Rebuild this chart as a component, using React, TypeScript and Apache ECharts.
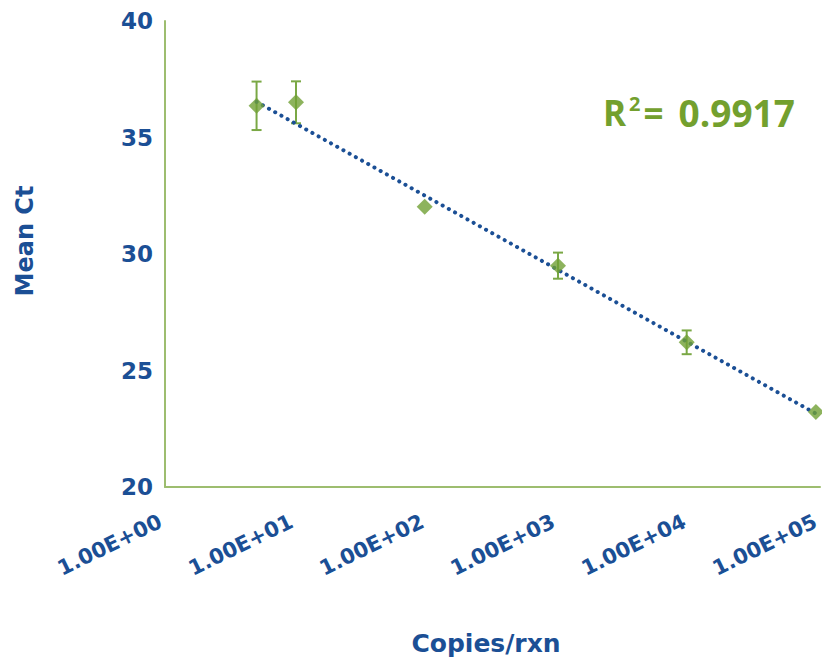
import React, { useEffect, useRef } from "react";
import * as echarts from "echarts";

const copies = [5, 10, 96, 1000, 9600, 93000];
const meanCt = [36.36, 36.51, 32.03, 29.5, 26.21, 23.22];
const ctError = [1.04, 0.9, 0, 0.56, 0.51, 0];
const trendX = [5, 93000];
const trendY = [36.53, 23.15];
const xTickLabels = ["1.00E+00", "1.00E+01", "1.00E+02", "1.00E+03", "1.00E+04", "1.00E+05"];
const yTicks = [20, 25, 30, 35, 40];
const r2Text = "0.9917";

const BLUE = "#1b4f95";
const GREEN = "#70a035";
const BAR_GREEN = "#7aa845";
const AXIS_GREEN = "#9dbd6f";
const R2_GREEN = "#73a02e";
const FONT = "DejaVu Sans";

export default function App() {
  const ref = useRef<HTMLDivElement>(null);
  useEffect(() => {
    if (!ref.current) return;
    const chart = echarts.init(ref.current, null, { renderer: "svg" });
    const errData = copies.map((c, i) => [c, meanCt[i] - ctError[i], meanCt[i] + ctError[i], ctError[i]]);
    chart.setOption({
      animation: false,
      grid: { left: 165, top: 21, right: 2, bottom: 171, outerBoundsMode: "none", containLabel: false },
      xAxis: {
        type: "log",
        logBase: 10,
        min: 1,
        max: 100000,
        axisLine: { show: true, lineStyle: { color: AXIS_GREEN, width: 2 } },
        axisTick: { show: false },
        splitLine: { show: false },
        axisLabel: {
          rotate: 26,
          margin: 31,
          color: BLUE,
          fontFamily: FONT,
          fontWeight: "bold",
          fontSize: 21,
          padding: [0, 5, 0, 0],
          hideOverlap: false,
          showMaxLabel: true,
          showMinLabel: true,
          formatter: (v: number) => {
            const e = Math.round(Math.log10(v));
            return xTickLabels[e] ?? "";
          },
        },
      },
      yAxis: {
        type: "value",
        min: yTicks[0],
        max: yTicks[yTicks.length - 1],
        interval: 5,
        axisLine: { show: true, lineStyle: { color: AXIS_GREEN, width: 2 } },
        axisTick: { show: false },
        splitLine: { show: false },
        axisLabel: {
          margin: 12,
          color: BLUE,
          fontFamily: FONT,
          fontWeight: "bold",
          fontSize: 23,
        },
      },
      graphic: [
        {
          type: "text",
          x: 25,
          y: 241,
          rotation: Math.PI / 2,
          style: {
            text: "Mean Ct",
            fill: BLUE,
            font: `bold 24px "${FONT}"`,
            textAlign: "center",
            textVerticalAlign: "middle",
          },
        },
        {
          type: "text",
          x: 486,
          y: 643,
          style: {
            text: "Copies/rxn",
            fill: BLUE,
            font: `bold 25px "${FONT}"`,
            textAlign: "center",
            textVerticalAlign: "middle",
          },
        },
        {
          type: "text",
          x: 603,
          y: 112,
          style: {
            text: "{r|R}{s|2}{r|=}{n|" + r2Text + "}",
            textVerticalAlign: "middle",
            rich: {
              r: { fill: R2_GREEN, font: `bold 35px "Open Sans"` },
              s: { fill: R2_GREEN, font: `bold 20px "Open Sans"`, verticalAlign: "top", padding: [0, 3, 14, 3] },
              n: { fill: R2_GREEN, font: `bold 37px "Open Sans"`, padding: [0, 0, 0, 15] },
            },
          },
        },
      ],
      series: [
        {
          type: "custom",
          z: 2,
          data: errData,
          renderItem: (params: any, api: any) => {
            const err = api.value(3);
            if (!err) return { type: "group", children: [] };
            const x = api.value(0);
            const top = api.coord([x, api.value(2)]);
            const bot = api.coord([x, api.value(1)]);
            const hw = 5;
            const style = { stroke: BAR_GREEN, lineWidth: 2 };
            return {
              type: "group",
              children: [
                { type: "line", shape: { x1: top[0], y1: top[1], x2: bot[0], y2: bot[1] }, style },
                { type: "line", shape: { x1: top[0] - hw, y1: top[1], x2: top[0] + hw, y2: top[1] }, style },
                { type: "line", shape: { x1: bot[0] - hw, y1: bot[1], x2: bot[0] + hw, y2: bot[1] }, style },
              ],
            };
          },
        },
        {
          type: "line",
          z: 3,
          data: trendX.map((x, i) => [x, trendY[i]]),
          symbol: "none",
          lineStyle: { color: BLUE, width: 4, type: [0.1, 7], cap: "round" },
        },
        {
          type: "scatter",
          z: 4,
          symbol: "diamond",
          symbolSize: [16, 16],
          itemStyle: { color: GREEN },
          data: copies.map((c, i) => [c, meanCt[i]]),
        },
      ],
    });
    return () => chart.dispose();
  }, []);
  return (
    <div
      ref={ref}
      style={{ position: "fixed", left: 0, top: 0, width: 822, height: 658, background: "#fff" }}
    />
  );
}
